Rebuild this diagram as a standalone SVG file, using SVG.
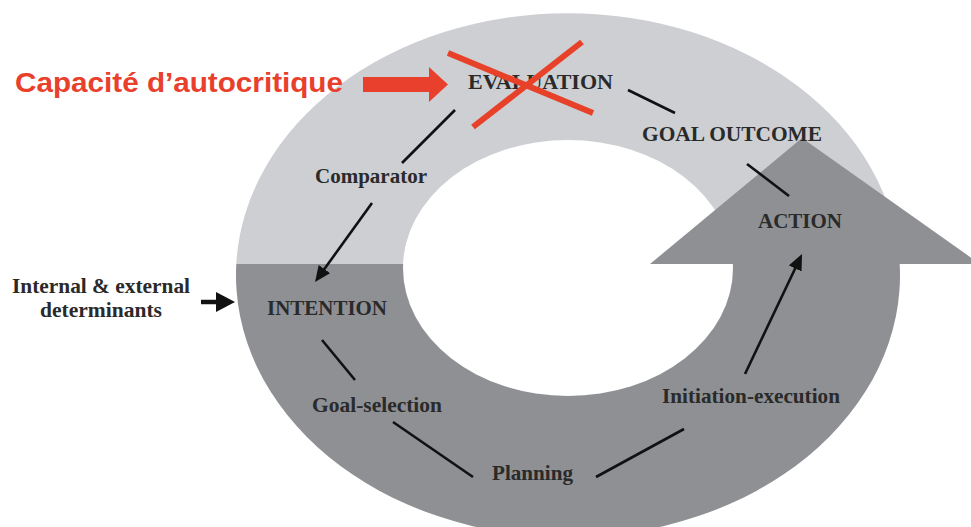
<svg xmlns="http://www.w3.org/2000/svg" width="971" height="527" viewBox="0 0 971 527">
<style>
.lbl{font-family:"Liberation Serif","Times New Roman",serif;font-weight:bold;font-size:21px;fill:#2a2a2a}
.ln{stroke:#111;stroke-width:2.6;fill:none}
.red{stroke:#e8412a;stroke-width:6;fill:none}
</style>
<defs>
<marker id="ah" markerUnits="userSpaceOnUse" markerWidth="18" markerHeight="16" refX="8" refY="7" orient="auto">
<path d="M0,0 L16,7 L0,14 z" fill="#111"/>
</marker>
<marker id="ahb" markerUnits="userSpaceOnUse" markerWidth="22" markerHeight="22" refX="6" refY="10" orient="auto">
<path d="M0,0 L19,10 L0,20 z" fill="#111"/>
</marker>
</defs>
<rect width="971" height="527" fill="#fff"/>
<g id="cycle-shape">
<path d="M236.3,264 A332,262 0 0 1 899.7,264 Z" fill="#cdcfd2"/>
<path d="M236.3,264 A332,262 0 1 0 899.7,264 Z" fill="#8e9094"/>
<ellipse cx="568" cy="268" rx="165" ry="128" fill="#fff"/>
<polygon points="650,264 802,138 980,264" fill="#8e9094"/>
</g>
<g id="connectors">
<line class="ln" x1="455" y1="110" x2="402" y2="163"/>
<line class="ln" x1="372" y1="203" x2="319.7" y2="275.5" marker-end="url(#ah)"/>
<line class="ln" x1="628" y1="90" x2="675" y2="113"/>
<line class="ln" x1="747" y1="164" x2="789" y2="196"/>
<line class="ln" x1="745" y1="374" x2="798.6" y2="261.2" marker-end="url(#ah)"/>
<line class="ln" x1="322" y1="340" x2="355" y2="380"/>
<line class="ln" x1="393" y1="422" x2="473" y2="477"/>
<line class="ln" x1="596" y1="477" x2="684" y2="429"/>
<line stroke="#111" stroke-width="4.5" x1="201" y1="302" x2="222" y2="302" marker-end="url(#ahb)"/>
</g>
<g id="evaluation"><text class="lbl" x="468" y="89" textLength="145" lengthAdjust="spacingAndGlyphs">EVALUATION</text></g>
<g id="goal-outcome"><text class="lbl" x="642" y="141" textLength="180" lengthAdjust="spacingAndGlyphs">GOAL OUTCOME</text></g>
<g id="action"><text class="lbl" x="758" y="228" textLength="84" lengthAdjust="spacingAndGlyphs">ACTION</text></g>
<g id="comparator"><text class="lbl" x="315" y="183" textLength="112" lengthAdjust="spacingAndGlyphs">Comparator</text></g>
<g id="intention"><text class="lbl" x="267" y="315" textLength="120" lengthAdjust="spacingAndGlyphs">INTENTION</text></g>
<g id="determinants">
<text class="lbl" x="12" y="293" textLength="178" lengthAdjust="spacingAndGlyphs">Internal &amp; external</text>
<text class="lbl" x="40" y="317" textLength="122" lengthAdjust="spacingAndGlyphs">determinants</text>
</g>
<g id="goal-selection"><text class="lbl" x="312" y="412" textLength="130" lengthAdjust="spacingAndGlyphs">Goal-selection</text></g>
<g id="planning"><text class="lbl" x="492" y="480" textLength="81" lengthAdjust="spacingAndGlyphs">Planning</text></g>
<g id="initiation-execution"><text class="lbl" x="662" y="403" textLength="178" lengthAdjust="spacingAndGlyphs">Initiation-execution</text></g>
<g id="autocritique">
<text x="15" y="92" font-family="'Liberation Sans',Arial,sans-serif" font-weight="bold" font-size="28" fill="#e8402c" textLength="328" lengthAdjust="spacingAndGlyphs">Capacité d’autocritique</text>
<rect x="363" y="77" width="67" height="15" fill="#e8402c"/>
<polygon points="429,67 448,84.5 429,102" fill="#e8402c"/>
</g>
<g id="cross">
<line class="red" x1="448" y1="53" x2="593" y2="113"/>
<line class="red" x1="582" y1="42" x2="473" y2="127"/>
</g>
</svg>
